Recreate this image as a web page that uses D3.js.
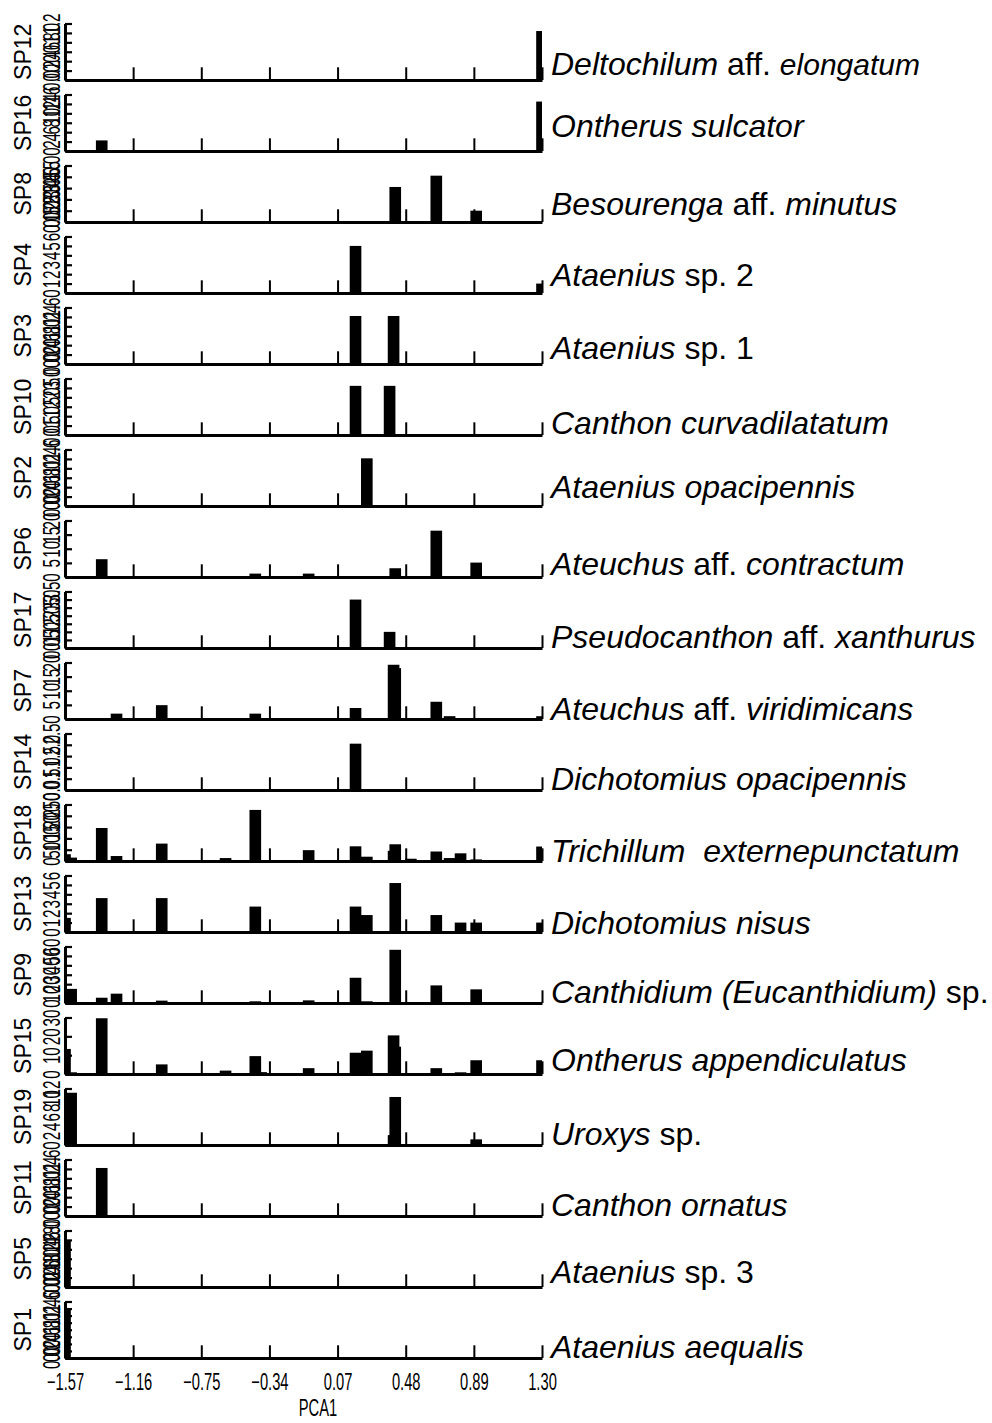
<!DOCTYPE html>
<html>
<head>
<meta charset="utf-8">
<script src="https://cdn.jsdelivr.net/npm/d3@7/dist/d3.min.js"></script>
<style>
  html, body { margin: 0; padding: 0; background: #fff; }
  svg { display: block; }
  .name { font-family: "Liberation Sans", Arial, sans-serif; font-size: 32px; fill: #000; white-space: pre; }
  .code { font-family: "Liberation Sans", Arial, sans-serif; font-size: 23px; fill: #000; }
  .tick text { font-family: "Liberation Sans", Arial, sans-serif; fill: #000; }
</style>
</head>
<body>
<svg id="chart" width="992" height="1423"></svg>
<script>
// PCA1 position of every sampling site, shared by all panels
const sites = [-1.57, -1.533, -1.349, -1.26, -0.988, -0.604, -0.425, -0.39, -0.104, 0.178,
  0.246, 0.383, 0.407, 0.417, 0.511, 0.664, 0.744, 0.81, 0.904, 1.30]

const xTicks = [-1.57, -1.16, -0.75, -0.34, 0.07, 0.48, 0.89, 1.30]

// panels, top to bottom
const codes = ['SP12', 'SP16', 'SP8', 'SP4', 'SP3', 'SP10', 'SP2', 'SP6', 'SP17', 'SP7',
  'SP14', 'SP18', 'SP13', 'SP9', 'SP15', 'SP19', 'SP11', 'SP5', 'SP1']

// species names as [text, style] pieces: 1 italic, 0 upright, 2 italic smaller
const names = [
  [['Deltochilum', 1], [' aff. ', 0], ['elongatum', 2]],
  [['Ontherus sulcator', 1]],
  [['Besourenga', 1], [' aff. ', 0], ['minutus', 1]],
  [['Ataenius', 1], [' sp. 2', 0]],
  [['Ataenius', 1], [' sp. 1', 0]],
  [['Canthon curvadilatatum', 1]],
  [['Ataenius opacipennis', 1]],
  [['Ateuchus', 1], [' aff. ', 0], ['contractum', 1]],
  [['Pseudocanthon', 1], [' aff. ', 0], ['xanthurus', 1]],
  [['Ateuchus', 1], [' aff. ', 0], ['viridimicans', 1]],
  [['Dichotomius opacipennis', 1]],
  [['Trichillum  externepunctatum', 1]],
  [['Dichotomius nisus', 1]],
  [['Canthidium (Eucanthidium)', 1], [' sp.', 0]],
  [['Ontherus appendiculatus', 1]],
  [['Uroxys', 1], [' sp.', 0]],
  [['Canthon ornatus', 1]],
  [['Ataenius', 1], [' sp. 3', 0]],
  [['Ataenius aequalis', 1]]
]

// y axis of each panel: top value, label step, number of tick marks
const yMax = [1.2, 16, 5, 6, 1.6, 3, 1.6, 20, 3.5, 20, 2.5, 250, 6, 60, 30, 12, 1.6, 2, 1.6]
const yStep = [0.2, 2, 0.5, 1, 0.2, 0.5, 0.2, 5, 0.5, 5, 0.5, 50, 1, 10, 10, 2, 0.2, 0.2, 0.2]
const yMarks = [7, 7, 6, 7, 7, 7, 7, 5, 8, 5, 6, 6, 7, 7, 4, 7, 7, 7, 9]

// abundance at each site (same order as sites)
const SP12 = [0, 0, 0, 0, 0, 0, 0, 0, 0, 0, 0, 0, 0, 0, 0, 0, 0, 0, 0, 1.04]
const SP16 = [0, 0, 3, 0, 0, 0, 0, 0, 0, 0, 0, 0, 0, 0, 0, 0, 0, 0, 0, 14]
const SP8 = [0, 0, 0, 0, 0, 0, 0, 0, 0, 0, 0, 0, 0, 3.1, 0, 4.1, 0, 0, 1.0, 0]
const SP4 = [0, 0, 0, 0, 0, 0, 0, 0, 0, 5.0, 0, 0, 0, 0, 0, 0, 0, 0, 0, 1.0]
const SP3 = [0, 0, 0, 0, 0, 0, 0, 0, 0, 1.36, 0, 0, 1.36, 0, 0, 0, 0, 0, 0, 0]
const SP10 = [0, 0, 0, 0, 0, 0, 0, 0, 0, 2.61, 0, 2.61, 0, 0, 0, 0, 0, 0, 0, 0]
const SP2 = [0, 0, 0, 0, 0, 0, 0, 0, 0, 0, 1.35, 0, 0, 0, 0, 0, 0, 0, 0, 0]
const SP6 = [0, 0, 6.3, 0, 0, 0, 1.2, 0, 1.2, 0, 0, 0, 0, 3.1, 0, 16.4, 0, 0, 5.1, 0]
const SP17 = [0, 0, 0, 0, 0, 0, 0, 0, 0, 3.0, 0, 1.0, 0, 0, 0, 0, 0, 0, 0, 0]
const SP7 = [0, 0, 0, 1.9, 4.9, 0, 1.9, 0, 0, 3.9, 0, 0, 19.2, 18, 0, 6.1, 1.0, 0, 0, 1.0]
const SP14 = [0, 0, 0, 0, 0, 0, 0, 0, 0, 2.05, 0, 0, 0, 0, 0, 0, 0, 0, 0, 0]
const SP18 = [30, 15, 146, 22, 77, 13, 226, 4, 48, 65, 19, 0, 45, 74, 10, 42, 13, 34, 7, 64]
const SP13 = [1.5, 0, 3.6, 0, 3.6, 0, 2.7, 0, 0, 2.7, 1.8, 0, 0, 5.2, 0, 1.8, 0, 1.0, 1.0, 1.0]
const SP9 = [0, 15, 5.6, 9.9, 2.5, 0.7, 1.8, 0, 2.8, 26.8, 1.8, 0, 0, 56.5, 0, 18.7, 0, 0, 14.5, 0]
const SP15 = [13.3, 0.9, 29.6, 0.5, 5.1, 1.8, 9.5, 1.0, 3.1, 11.3, 12.4, 0, 20.5, 14.5, 0, 3.1, 0, 0.9, 7.3, 7.3]
const SP19 = [0, 11.1, 0, 0, 0, 0, 0, 0, 0, 0, 0, 0, 2.1, 10.2, 0, 0, 0, 0, 1.2, 0]
const SP11 = [0, 0, 1.36, 0, 0, 0, 0, 0, 0, 0, 0, 0, 0, 0, 0, 0, 0, 0, 0, 0]
const SP5 = [1.64, 0, 0, 0, 0, 0, 0, 0, 0, 0, 0, 0, 0, 0, 0, 0, 0, 0, 0, 0]
const SP1 = [1.39, 0, 0, 0, 0, 0, 0, 0, 0, 0, 0, 0, 0, 0, 0, 0, 0, 0, 0, 0]

const values = [SP12, SP16, SP8, SP4, SP3, SP10, SP2, SP6, SP17, SP7,
  SP14, SP18, SP13, SP9, SP15, SP19, SP11, SP5, SP1]

// layout
const base0 = 80      // baseline of first panel
const rowStep = 71    // distance between panel baselines
const axisH = 56.5    // height of each y axis
const barHalf = 0.035 // half bar width in PCA1 units
const nameDy = [-5, -14, -7, -7, -5, -1, -8, -2, 0, 1, 0, 1, 2, 0, -3, 0, 0, -4, 0]

const svg = d3.select('#chart')
const x = d3.scaleLinear().domain([-1.57, 1.30]).range([65, 542])

svg.append('defs').append('clipPath')
  .attr('id', 'plot-clip')
  .append('rect')
  .attr('x', x(-1.57))
  .attr('y', 0)
  .attr('width', x(1.30) - x(-1.57))
  .attr('height', 1423)

const fmt = step => step < 1 ? d3.format('.1f') : d3.format('d')

codes.forEach((code, i) => {
  const base = base0 + i * rowStep
  const y = d3.scaleLinear().domain([0, yMax[i]]).range([base, base - axisH])
  const g = svg.append('g').attr('class', 'panel')

  // bars
  const bars = sites.map((s, k) => ({ s, v: values[i][k] })).filter(d => d.v > 0)
  g.append('g')
    .attr('clip-path', 'url(#plot-clip)')
    .selectAll('rect')
    .data(bars)
    .enter()
    .append('rect')
    .attr('x', d => x(d.s - barHalf))
    .attr('width', d => x(d.s + barHalf) - x(d.s - barHalf))
    .attr('y', d => y(d.v))
    .attr('height', d => base - y(d.v))
    .style('fill', '#000')

  // x axis with upward ticks
  const last = i === codes.length - 1
  const xAxis = g.append('g')
    .attr('transform', `translate(0,${base})`)
    .call(d3.axisBottom(x).tickValues(xTicks).tickSize(-12.7).tickSizeOuter(0)
      .tickFormat(last ? d3.format('.2f') : ''))
  xAxis.select('.domain').style('stroke', '#000').style('stroke-width', 3)
  xAxis.selectAll('.tick line').style('stroke', '#000').style('stroke-width', 2)
  if (last) {
    xAxis.selectAll('.tick text')
      .attr('y', 32)
      .attr('dy', 0)
      .attr('transform', 'scale(0.64,1)')
      .style('font-size', '23px')
  }

  // y axis marks
  const marks = d3.range(yMarks[i]).map(k => yMax[i] * k / (yMarks[i] - 1))
  const yAxis = g.append('g')
    .attr('transform', `translate(${x(-1.57)},0)`)
    .call(d3.axisLeft(y).tickValues(marks).tickSize(-7).tickSizeOuter(0).tickFormat(''))
  yAxis.select('.domain').style('stroke', '#000').style('stroke-width', 3)
  yAxis.selectAll('.tick line').style('stroke', '#000').style('stroke-width', 2.2)

  // y axis labels, rotated and crowded
  const labels = d3.range(0, yMax[i] + yStep[i] / 2, yStep[i])
  const yLab = g.append('g')
    .attr('transform', `translate(${x(-1.57)},0)`)
    .call(d3.axisLeft(y).tickValues(labels).tickSize(0).tickFormat(fmt(yStep[i])))
  yLab.select('.domain').remove()
  yLab.selectAll('.tick text')
    .attr('x', 0)
    .attr('dy', 0)
    .attr('text-anchor', 'middle')
    .attr('transform', 'translate(-5,0) rotate(-90) scale(0.66,1)')
    .style('font-size', '23px')

  // species code
  g.append('text')
    .attr('class', 'code')
    .attr('transform', `translate(31,${base - axisH / 2}) rotate(-90)`)
    .attr('text-anchor', 'middle')
    .text(code)

  // species name
  const t = g.append('text')
    .attr('class', 'name')
    .attr('x', 551)
    .attr('y', base + nameDy[i])
  t.selectAll('tspan')
    .data(names[i])
    .enter()
    .append('tspan')
    .style('font-style', d => d[1] ? 'italic' : 'normal')
    .style('font-size', d => d[1] === 2 ? '30px' : null)
    .text(d => d[0])
})

svg.append('text')
  .attr('transform', `translate(318,${base0 + 18 * rowStep + 58}) scale(0.64,1)`)
  .attr('text-anchor', 'middle')
  .style('font-family', '"Liberation Sans", Arial, sans-serif')
  .style('font-size', '23px')
  .text('PCA1')
</script>
</body>
</html>
